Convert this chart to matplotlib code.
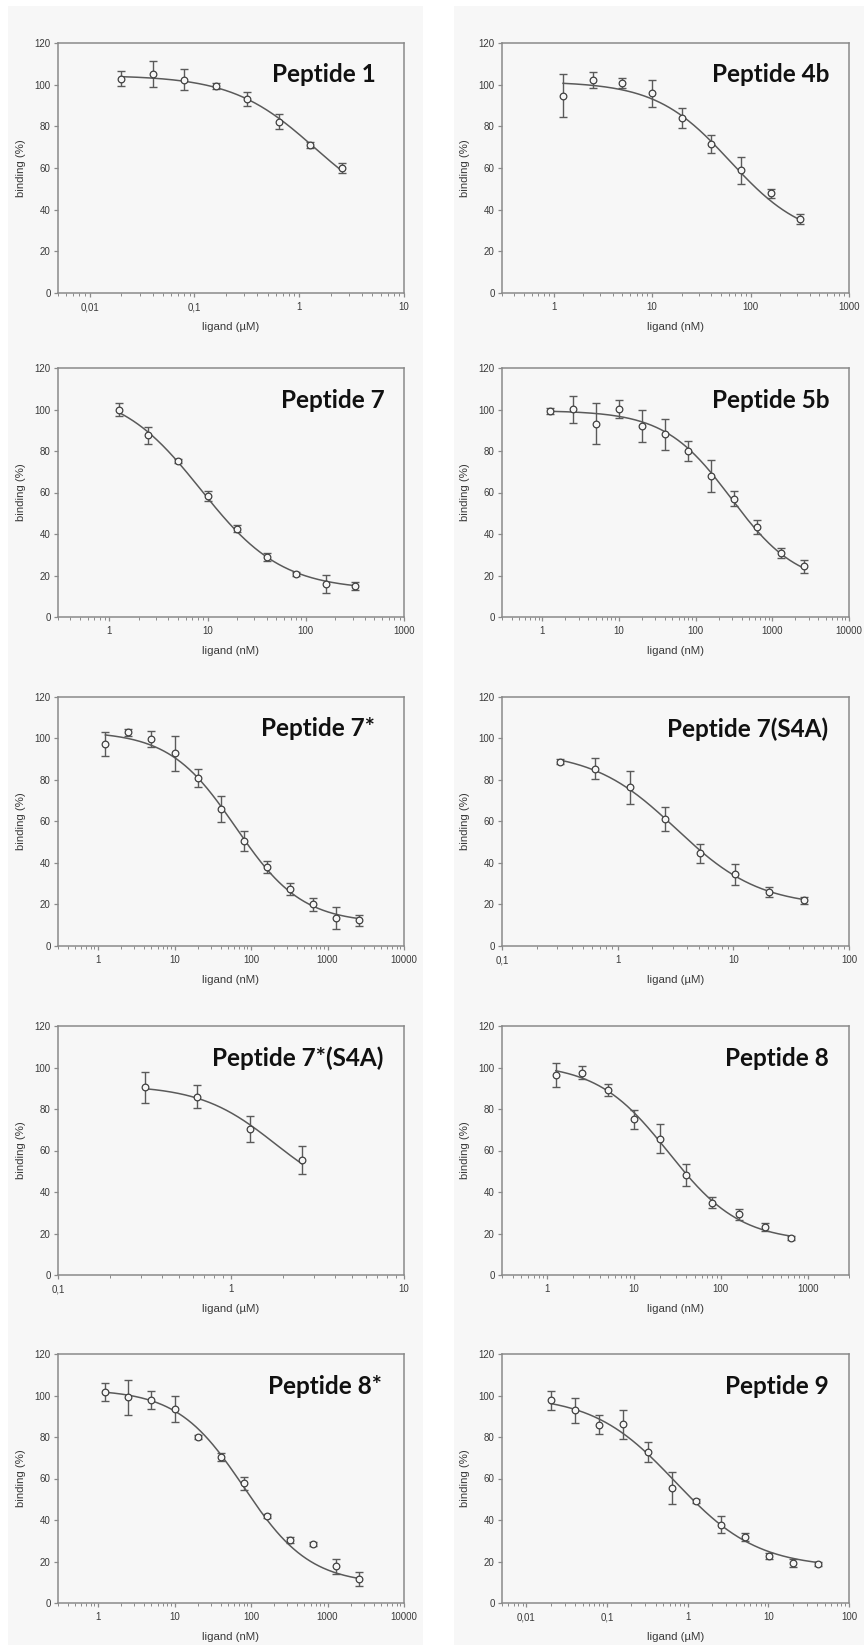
import numpy as np
import matplotlib
matplotlib.use("Agg")
import matplotlib.pyplot as plt
from matplotlib.patches import Rectangle
from matplotlib.ticker import FixedLocator, FuncFormatter, LogLocator, NullFormatter

plt.rcParams['font.family'] = ['Liberation Sans', 'DejaVu Sans']

# ---------------- data ----------------
titles = ["Peptide 1", "Peptide 4b", "Peptide 7", "Peptide 5b", "Peptide 7*",
          "Peptide 7(S4A)", "Peptide 7*(S4A)", "Peptide 8", "Peptide 8*", "Peptide 9"]
units = ["µM", "nM", "nM", "nM", "nM", "µM", "µM", "nM", "nM", "µM"]
xlims = [(0.005, 10), (0.3, 1000), (0.3, 1000), (0.3, 10000), (0.3, 10000),
         (0.1, 100), (0.1, 10), (0.3, 3000), (0.3, 10000), (0.005, 100)]
xticks = [[0.01, 0.1, 1, 10], [1, 10, 100, 1000], [1, 10, 100, 1000],
          [1, 10, 100, 1000, 10000], [1, 10, 100, 1000, 10000],
          [0.1, 1, 10, 100], [0.1, 1, 10], [1, 10, 100, 1000],
          [1, 10, 100, 1000, 10000], [0.01, 0.1, 1, 10, 100]]
yticks = [0, 20, 40, 60, 80, 100, 120]

conc_um_8 = [0.02, 0.04, 0.08, 0.16, 0.32, 0.64, 1.28, 2.56]
conc_nm_9 = [1.25, 2.5, 5, 10, 20, 40, 80, 160, 320]
conc_nm_12 = [1.25, 2.5, 5, 10, 20, 40, 80, 160, 320, 640, 1280, 2560]
conc_nm_10 = [1.25, 2.5, 5, 10, 20, 40, 80, 160, 320, 640]
conc_um_s4a = [0.32, 0.64, 1.28, 2.56, 5.12, 10.24, 20.48, 40.96]
conc_um_s4a_star = [0.32, 0.64, 1.28, 2.56]
conc_um_12 = [0.02, 0.04, 0.08, 0.16, 0.32, 0.64, 1.28, 2.56, 5.12, 10.24, 20.48, 40.96]

p1_y = [102.8, 105.2, 102.4, 99.2, 93.2, 82.3, 70.9, 59.8]
p1_err = [3.6, 6.3, 5.0, 1.5, 3.2, 3.5, 1.5, 2.4]
p4b_y = [94.8, 102.4, 100.8, 95.9, 84.1, 71.6, 58.9, 47.8, 35.5]
p4b_err = [10.4, 3.8, 2.5, 6.5, 4.7, 4.2, 6.6, 2.0, 2.5]
p7_y = [99.9, 87.5, 75.0, 58.2, 42.6, 28.8, 20.7, 16.1, 15.1]
p7_err = [3.2, 4.0, 1.0, 2.4, 1.5, 2.0, 1.0, 4.3, 2.0]
p5b_y = [99.1, 100.2, 93.2, 100.2, 91.9, 88.0, 80.0, 67.8, 57.0, 43.4, 30.8, 24.4]
p5b_err = [1.5, 6.5, 10.0, 4.2, 7.7, 7.4, 4.8, 7.7, 3.5, 3.2, 2.4, 3.0]
p7s_y = [97.4, 102.9, 99.7, 92.9, 81.0, 66.1, 50.6, 38.1, 27.4, 20.0, 13.4, 12.3]
p7s_err = [5.8, 1.5, 4.0, 8.4, 4.3, 6.3, 5.0, 2.7, 2.8, 2.9, 5.3, 2.7]
p7a_y = [88.9, 85.4, 76.4, 61.2, 44.6, 34.6, 26.1, 22.1]
p7a_err = [1.0, 5.0, 8.0, 5.6, 4.5, 5.0, 2.3, 1.7]
p7sa_y = [90.4, 85.9, 70.3, 55.3]
p7sa_err = [7.6, 5.5, 6.3, 6.8]
p8_y = [96.4, 97.5, 89.2, 75.0, 65.7, 48.0, 34.9, 29.2, 23.1, 18.0]
p8_err = [5.6, 3.0, 3.0, 4.5, 6.9, 5.3, 2.7, 2.6, 2.0, 1.0]
p8s_y = [101.7, 99.1, 97.8, 93.5, 80.1, 70.5, 57.6, 42.0, 30.2, 28.3, 17.7, 11.7]
p8s_err = [4.5, 8.3, 4.3, 6.5, 1.0, 2.0, 3.0, 1.0, 1.5, 1.0, 3.7, 3.3]
p9_y = [97.6, 92.8, 85.9, 86.1, 72.7, 55.3, 49.1, 37.6, 31.7, 22.8, 19.3, 18.8]
p9_err = [4.5, 6.0, 4.5, 7.0, 4.8, 7.8, 1.0, 4.1, 2.0, 1.5, 2.0, 1.0]

# fitted 4-parameter logistic: top, bottom, IC50, Hill slope
fit_params = [(104.5, 35, 1.4, 1.1), (101.5, 25, 62, 1.15), (110, 13, 8.5, 1.05),
              (99.5, 15, 290, 1.0), (103.5, 11, 63, 1.0), (94, 19, 3.2, 1.2),
              (91.5, 35, 1.8, 2.0), (102, 16, 25, 1.05), (103, 9, 80, 1.0),
              (100, 17, 0.7, 0.85)]

xs = [conc_um_8, conc_nm_9, conc_nm_9, conc_nm_12, conc_nm_12, conc_um_s4a,
      conc_um_s4a_star, conc_nm_10, conc_nm_12, conc_um_12]
ys = [p1_y, p4b_y, p7_y, p5b_y, p7s_y, p7a_y, p7sa_y, p8_y, p8s_y, p9_y]
errs = [p1_err, p4b_err, p7_err, p5b_err, p7s_err, p7a_err, p7sa_err, p8_err, p8s_err, p9_err]
title_right_gap = [28, 20, 19, 20, 29, 21, 21, 20, 22, 20]

# ---------------- layout ----------------
W, H = 864, 1645
fig = plt.figure(figsize=(W / 100, H / 100), dpi=100)
fig.patch.set_facecolor("white")
bg = "#f7f7f7"

bgax = fig.add_axes([0, 0, 1, 1], zorder=-10)
bgax.set_xlim(0, W)
bgax.set_ylim(H, 0)
bgax.axis("off")
bgax.add_patch(Rectangle((8, 6), 423 - 8, H - 6, facecolor=bg, edgecolor="none"))
bgax.add_patch(Rectangle((454, 6), 864 - 454, H - 6, facecolor=bg, edgecolor="none"))

col_x = [(58, 404), (502, 849)]
row_y = [(43, 293), (368, 617), (697, 946), (1026, 1275), (1354, 1603)]

def fmt(v, pos):
    s = f"{v:g}"
    return s.replace(".", ",")

def logistic(x, top, bottom, ic50, hill):
    return bottom + (top - bottom) / (1 + (x / ic50) ** hill)

spine_c = "#8a8a8a"
txt_c = "#3a3a3a"
for i in range(10):
    r, c = divmod(i, 2)
    x0, x1 = col_x[c]
    yt, yb = row_y[r]
    ax = fig.add_axes([x0 / W, 1 - yb / H, (x1 - x0) / W, (yb - yt) / H])
    ax.set_facecolor(bg)
    ax.set_xscale("log")
    ax.set_xlim(*xlims[i])
    ax.set_ylim(0, 120)
    for s in ax.spines.values():
        s.set_color(spine_c)
        s.set_linewidth(1.1)
    ax.xaxis.set_major_locator(FixedLocator(xticks[i]))
    ax.xaxis.set_major_formatter(FuncFormatter(fmt))
    ax.xaxis.set_minor_locator(LogLocator(base=10, subs=np.arange(2, 10), numticks=20))
    ax.xaxis.set_minor_formatter(NullFormatter())
    ax.set_yticks(yticks)
    ax.tick_params(axis="both", which="major", direction="out", length=3, width=0.9,
                   color=spine_c, labelsize=7.0, labelcolor=txt_c, pad=2.2,
                   top=False, right=False)
    ax.tick_params(axis="x", which="minor", direction="out", length=1.8, width=0.7,
                   color=spine_c, top=False)
    ax.tick_params(axis="x", which="major", pad=3.5)

    xv = np.array(xs[i])
    yv = np.array(ys[i])
    ev = np.array(errs[i])
    xc = np.logspace(np.log10(xv[0]), np.log10(xv[-1]), 300)
    ax.plot(xc, logistic(xc, *fit_params[i]), color="#5a5a5a", lw=1.1, zorder=2)
    ax.errorbar(xv, yv, yerr=ev, fmt="none", ecolor="#5a5a5a", elinewidth=1.0,
                capsize=2.6, capthick=1.0, zorder=3)
    ax.plot(xv, yv, "o", ms=4.8, mfc=bg, mec="#404040", mew=0.9, zorder=4)

    ax.set_xlabel(f"ligand ({units[i]})", fontsize=8.2, color=txt_c)
    ax.set_ylabel("binding (%)", fontsize=8.2, color=txt_c)
    ax.xaxis.set_label_coords(0.5, -29 / (yb - yt))
    ax.yaxis.set_label_coords(-32 / (x1 - x0), 0.5)

    ax.text(1 - title_right_gap[i] / (x1 - x0), 1 - 32 / (yb - yt), titles[i],
            transform=ax.transAxes, ha="right", va="center", fontsize=17.5,
            fontweight="bold", family=["Lato", "DejaVu Sans"], color="#111111")

fig.savefig("out.png", dpi=100, facecolor=fig.get_facecolor())
